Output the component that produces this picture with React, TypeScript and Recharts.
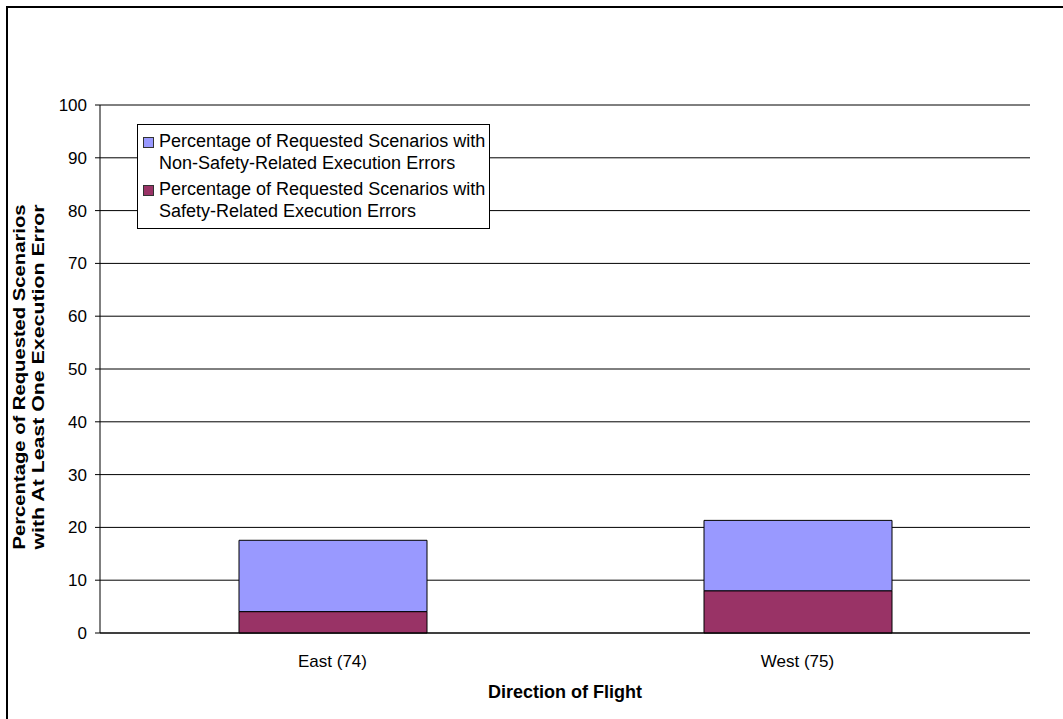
import React from 'react';
import { BarChart, Bar, XAxis, YAxis, CartesianGrid, ReferenceLine, Legend, Label } from 'recharts';

const categories = ['East (74)', 'West (75)'];
const safetyValues = [4.05, 8.0];
const nonSafetyValues = [13.51, 13.33];
const yTicks = [0, 10, 20, 30, 40, 50, 60, 70, 80, 90, 100];
const boundaryTicks = [0, 1, 2];

const seriesDefs = [
  { key: 'safety', name: 'Percentage of Requested Scenarios with Safety-Related Execution Errors', lines: ['Percentage of Requested Scenarios with', 'Safety-Related Execution Errors'], color: '#993366' },
  { key: 'nonSafety', name: 'Percentage of Requested Scenarios with Non-Safety-Related Execution Errors', lines: ['Percentage of Requested Scenarios with', 'Non-Safety-Related Execution Errors'], color: '#9999FF' },
];

const data = categories.map((name, i) => ({
  name,
  safety: safetyValues[i],
  nonSafety: nonSafetyValues[i],
}));

const FONT = '"Liberation Sans", Arial, Helvetica, sans-serif';

const LegendBox = () => {
  const items = [...seriesDefs].reverse();
  return (
    <div
      style={{
        boxSizing: 'border-box',
        width: 353,
        height: 105,
        border: '1px solid #000',
        background: '#fff',
        padding: '6px 2px 0 5px',
        fontFamily: FONT,
        fontSize: 18,
        color: '#000',
        textAlign: 'left',
      }}
    >
      {items.map((s, idx) => (
        <div key={s.key} style={{ display: 'flex', alignItems: 'flex-start', marginBottom: idx === 0 ? 5 : 0 }}>
          <div
            style={{
              width: 9,
              height: 9,
              background: s.color,
              border: '1px solid #333',
              marginTop: 6,
              marginRight: 5,
              flex: '0 0 auto',
            }}
          />
          <div style={{ lineHeight: '21.5px', whiteSpace: 'nowrap' }}>
            {s.lines.map((l) => (
              <div key={l}>{l}</div>
            ))}
          </div>
        </div>
      ))}
    </div>
  );
};

const YTitle = (props: any) => {
  const vb = props.viewBox || {};
  const cy = (vb.y || 105) + (vb.height || 528) / 2 + 8;
  return (
    <g fontFamily={FONT} fontSize={17} fontWeight="bold" fill="#000">
      <text
        transform={`translate(25,${cy}) rotate(-90)`}
        textAnchor="middle"
        textLength={345}
        lengthAdjust="spacingAndGlyphs"
      >
        Percentage of Requested Scenarios
      </text>
      <text
        transform={`translate(44,${cy}) rotate(-90)`}
        textAnchor="middle"
        textLength={345}
        lengthAdjust="spacingAndGlyphs"
      >
        with At Least One Execution Error
      </text>
    </g>
  );
};

export default function App() {
  return (
    <div style={{ position: 'fixed', left: 0, top: 0, width: 1063, height: 719, overflow: 'hidden', background: '#fff' }}>
      <div
        style={{
          position: 'absolute',
          left: 6,
          top: 6,
          width: 1200,
          height: 900,
          borderTop: '2px solid #000',
          borderLeft: '2px solid #000',
        }}
      />
      <div style={{ position: 'absolute', left: 0, top: 0 }}>
        <BarChart
          width={1063}
          height={719}
          data={data}
          margin={{ top: 105, right: 33, bottom: 16, left: 0 }}
          barSize={188}
        >
          <CartesianGrid vertical={false} stroke="#000" horizontalValues={yTicks} />
          <ReferenceLine y={100} stroke="#808080" strokeWidth={1} ifOverflow="extendDomain" />
          <XAxis
            xAxisId="b"
            type="number"
            domain={[0, 2]}
            ticks={boundaryTicks}
            height={0}
            axisLine={false}
            tick={false}
            tickSize={5}
            tickLine={{ stroke: '#555' }}
          />
          <XAxis
            dataKey="name"
            type="category"
            height={70}
            axisLine={{ stroke: '#000' }}
            tickLine={false}
            tickSize={5}
            tickMargin={17}
            tick={{ fill: '#000', fontSize: 17, fontFamily: FONT }}
          >
            <Label
              value="Direction of Flight"
              position="insideBottom"
              offset={5}
              style={{ fontFamily: FONT, fontSize: 18, fontWeight: 'bold', fill: '#000' }}
            />
          </XAxis>
          <YAxis
            width={100}
            domain={[0, 100]}
            ticks={yTicks}
            interval={0}
            axisLine={{ stroke: '#000' }}
            tickLine={{ stroke: '#000' }}
            tickSize={5}
            tickMargin={8}
            tick={{ fill: '#000', fontSize: 17, fontFamily: FONT }}
          >
            <Label content={<YTitle />} />
          </YAxis>
          <YAxis
            yAxisId="right"
            orientation="right"
            width={0}
            domain={[0, 100]}
            tick={false}
            tickLine={false}
            axisLine={{ stroke: '#808080' }}
          />
          <Legend
            layout="horizontal"
            verticalAlign="middle"
            align="center"
            wrapperStyle={{ left: 137, top: 124, width: 353, height: 105 }}
            content={<LegendBox />}
          />
          {seriesDefs.map((s) => (
            <Bar
              key={s.key}
              dataKey={s.key}
              name={s.name}
              stackId="a"
              fill={s.color}
              stroke="#000"
              strokeWidth={1}
              isAnimationActive={false}
            />
          ))}
        </BarChart>
      </div>
    </div>
  );
}
